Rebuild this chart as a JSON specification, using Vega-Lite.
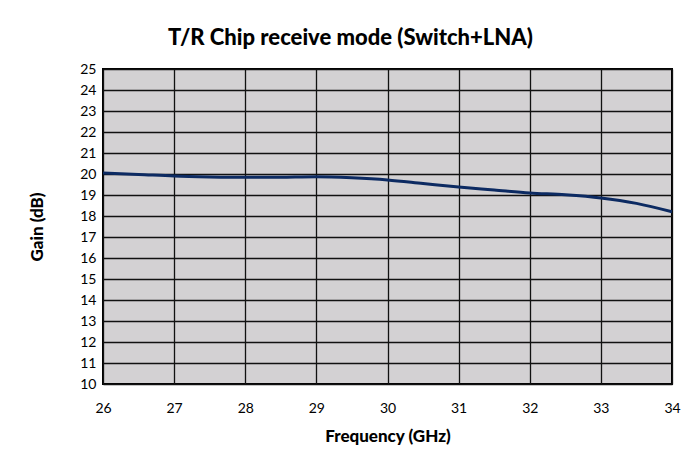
{
  "$schema": "https://vega.github.io/schema/vega-lite/v6.json",
  "autosize": "none",
  "width": 569,
  "height": 315,
  "padding": {"left": 103, "top": 69, "right": 11, "bottom": 90},
  "background": "white",
  "title": {
    "text": "T/R Chip receive mode (Switch+LNA)",
    "fontSize": 22,
    "font": "Lato",
    "fontWeight": 900,
    "color": "black",
    "anchor": "middle",
    "dx": -37,
    "offset": 12
  },
  "data": {
    "values": [
      {"freq": 26, "gain": 20.05},
      {"freq": 26.5, "gain": 19.98},
      {"freq": 27, "gain": 19.9},
      {"freq": 27.5, "gain": 19.86},
      {"freq": 28, "gain": 19.84},
      {"freq": 28.5, "gain": 19.85},
      {"freq": 29, "gain": 19.87},
      {"freq": 29.5, "gain": 19.82},
      {"freq": 30, "gain": 19.72},
      {"freq": 30.5, "gain": 19.55},
      {"freq": 31, "gain": 19.38},
      {"freq": 31.5, "gain": 19.24},
      {"freq": 32, "gain": 19.1},
      {"freq": 32.5, "gain": 19.01},
      {"freq": 33, "gain": 18.86},
      {"freq": 33.5, "gain": 18.6},
      {"freq": 34, "gain": 18.2}
    ]
  },
  "mark": {"type": "line", "color": "#0c2a62", "strokeWidth": 3, "interpolate": "monotone"},
  "encoding": {
    "x": {
      "field": "freq",
      "type": "quantitative",
      "scale": {"domain": [26, 34], "nice": false, "zero": false},
      "axis": {
        "title": "Frequency (GHz)",
        "values": [26, 27, 28, 29, 30, 31, 32, 33, 34],
        "labelPadding": 17,
        "titlePadding": 13
      }
    },
    "y": {
      "field": "gain",
      "type": "quantitative",
      "scale": {"domain": [10, 25], "nice": false, "zero": false},
      "axis": {
        "title": "Gain (dB)",
        "values": [10, 11, 12, 13, 14, 15, 16, 17, 18, 19, 20, 21, 22, 23, 24, 25],
        "labelPadding": 7,
        "titlePadding": 33
      }
    }
  },
  "config": {
    "view": {"fill": "#d3d1d3", "stroke": "black", "strokeWidth": 2},
    "axis": {
      "grid": true,
      "gridColor": "#111111",
      "gridWidth": 1.3,
      "gridOpacity": 1,
      "ticks": false,
      "domain": false,
      "labelFont": "Lato",
      "labelFontSize": 14,
      "labelColor": "black",
      "titleFont": "Lato",
      "titleFontSize": 17,
      "titleFontWeight": 900,
      "titleColor": "black",
      "labelFlush": false,
      "labelOverlap": false,
      "labelBound": false
    }
  }
}
